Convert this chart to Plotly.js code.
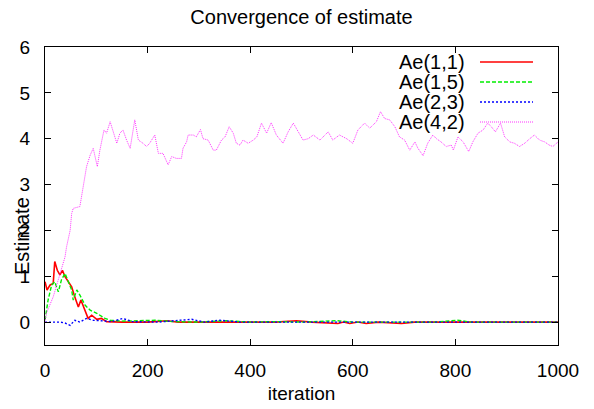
<!DOCTYPE html>
<html>
<head>
<meta charset="utf-8">
<script src="https://cdn.plot.ly/plotly-3.0.1.min.js"></script>
<style>html,body{margin:0;padding:0;background:#fff;}#chart{width:594px;height:409px;}</style>
</head>
<body>
<div id="chart"></div>
<script>
const seriesNames = ["Ae(1,1)", "Ae(1,5)", "Ae(2,3)", "Ae(4,2)"];

const ae11X = [0,4,10,16,19,24,29,34,39,45,52,58,65,70,76,84,91,101,110,120,150,200,237,260,300,350,400,450,490,520,571,582,594,610,626,650,695,720,800,850,900,950,1000];
const ae11Y = [0.88,0.70,0.81,0.84,1.32,1.13,1.03,1.13,0.99,0.88,0.77,0.55,0.33,0.48,0.30,0.08,0.15,0.06,0.08,0.01,0.0,0.0,0.03,0.0,0.0,0.0,0.0,0.0,0.03,0.0,-0.03,0.0,-0.03,0.0,-0.03,0.0,-0.03,0.0,0.0,0.0,0.0,0.0,0.0];

const ae15X = [0,6,13,19,26,32,39,45,52,55,62,68,78,88,101,117,127,150,214,250,300,354,400,450,500,568,600,700,760,804,830,900,1000];
const ae15Y = [0.04,0.48,0.81,0.88,0.66,0.92,1.06,0.88,0.70,0.48,0.70,0.59,0.37,0.26,0.19,0.08,0.04,0.02,0.04,0.01,0.0,0.03,0.0,0.01,0.0,0.03,0.0,0.0,0.0,0.04,0.0,0.0,0.0];

const ae23X = [0,29,39,49,58,68,81,94,107,130,152,170,220,286,310,341,380,450,500,600,700,800,900,1000];
const ae23Y = [0.0,0.0,-0.02,-0.07,0.04,0.0,0.08,0.04,0.03,0.01,0.08,0.01,0.0,0.06,0.0,0.04,0.0,0.0,0.01,0.0,0.0,0.0,0.0,0.0];

const ae42X = [0,3,16,29,39,42,49,52,55,68,71,75,81,88,94,102,107,115,120,127,133,140,146,152,159,166,175,182,191,198,204,214,221,230,240,247,256,266,269,276,279,289,295,303,308,318,328,334,344,351,359,367,373,380,386,396,406,413,422,432,441,451,464,474,484,493,503,513,523,536,552,561,574,588,600,610,623,633,646,654,662,672,682,691,701,711,721,727,737,746,756,763,772,782,792,796,805,815,826,834,844,854,863,870,878,888,896,906,915,925,935,945,954,964,974,983,990,1000];
const ae42Y = [0.0,0.2,0.55,1.07,1.42,1.64,2.0,2.37,2.48,2.52,2.73,2.95,3.39,3.64,3.79,3.39,3.75,4.19,4.12,4.37,4.15,3.90,4.12,4.19,3.97,3.79,4.41,3.97,3.90,3.83,3.90,4.08,3.68,3.68,3.43,3.61,3.57,3.57,3.79,3.93,4.08,4.08,4.04,4.20,4.00,3.97,3.75,3.75,3.97,4.04,4.26,4.12,3.90,3.86,3.97,3.90,3.97,4.04,4.34,4.12,4.35,4.08,3.90,4.15,4.34,4.15,3.97,4.00,4.08,3.97,4.15,3.97,4.08,4.00,3.90,4.19,4.34,4.23,4.37,4.59,4.44,4.41,4.26,4.04,3.97,3.75,3.93,3.79,3.63,3.90,4.08,4.00,3.93,3.83,3.86,3.75,4.04,3.93,3.72,3.93,4.12,4.19,4.34,4.26,4.15,4.34,4.04,3.93,3.90,3.83,3.90,4.00,4.08,3.97,3.93,3.86,3.83,3.93];

const xTickVals = [0,200,400,600,800,1000];
const yTickVals = [0,1,2,3,4,5,6];

const styles = [
  {color:"#ff0000", width:1.6, dash:"solid"},
  {color:"#00ee00", width:1.4, dash:"4px,2px"},
  {color:"#0000ff", width:1.4, dash:"2px,2px"},
  {color:"#ff33ff", width:1.0, dash:"1px,1px"}
];
const xs = [ae11X, ae15X, ae23X, ae42X];
const ys = [ae11Y, ae15Y, ae23Y, ae42Y];

const traces = seriesNames.map((n,i)=>({
  x: xs[i], y: ys[i], name: n, type: "scatter", mode: "lines",
  line: {color: styles[i].color, width: styles[i].width, dash: styles[i].dash},
  showlegend: false, hoverinfo: "skip"
}));

const FONT = "Liberation Sans, Arial, Helvetica, sans-serif";
const L = 45, R = 558, T = 47, B = 345, W = 594, H = 409;
const px = p => (p - L) / (R - L);
const py = p => (B - p) / (B - T);

const annotations = [];
const shapes = [];
const rowY = [62, 82, 102, 122];
seriesNames.forEach((n,i)=>{
  annotations.push({xref:"paper", yref:"paper", x: px(467), y: py(rowY[i]), xanchor:"right", yanchor:"middle",
    text:n, showarrow:false, font:{family:FONT, size:20, color:"#000"}});
  shapes.push({type:"line", xref:"paper", yref:"paper", x0: px(480), x1: px(533), y0: py(rowY[i]), y1: py(rowY[i]),
    line:{color: styles[i].color, width: styles[i].width, dash: styles[i].dash}});
});
annotations.push({xref:"paper", yref:"paper", x: px(22), y: py(236), xanchor:"center", yanchor:"middle",
  text:"Estimate", textangle:-90, showarrow:false, font:{family:FONT, size:20, color:"#000"}});

const layout = {
  width: W, height: H,
  margin: {l: L, r: W - R, t: T, b: H - B, pad: 0},
  paper_bgcolor: "#fff", plot_bgcolor: "#fff",
  font: {family: FONT, size: 20, color: "#000"},
  title: {text: "Convergence of estimate", x: 301.5/W, xanchor: "center", xref: "container",
    y: 1 - 17/H, yanchor: "middle", yref: "container", font: {family: FONT, size: 20, color: "#000"}},
  xaxis: {range: [0, 1000], tickvals: xTickVals, ticktext: xTickVals.map(String), ticks: "inside", ticklen: 6,
    tickcolor: "#000", showline: true, linecolor: "#000", linewidth: 1, mirror: "allticks",
    showgrid: false, zeroline: false, automargin: false, ticklabelstandoff: 8,
    tickfont: {family: FONT, size: 19, color: "#000"},
    title: {text: "iteration", standoff: 6, font: {family: FONT, size: 19, color: "#000"}}},
  yaxis: {range: [-0.5, 6], tickvals: yTickVals, ticktext: yTickVals.map(String), ticks: "inside", ticklen: 6,
    tickcolor: "#000", showline: true, linecolor: "#000", linewidth: 1, mirror: "allticks",
    showgrid: false, zeroline: false, automargin: false, ticklabelstandoff: 10,
    tickfont: {family: FONT, size: 19, color: "#000"}},
  annotations: annotations,
  shapes: shapes,
  showlegend: false
};

Plotly.newPlot("chart", traces, layout, {displayModeBar: false, staticPlot: true});
</script>
</body>
</html>
